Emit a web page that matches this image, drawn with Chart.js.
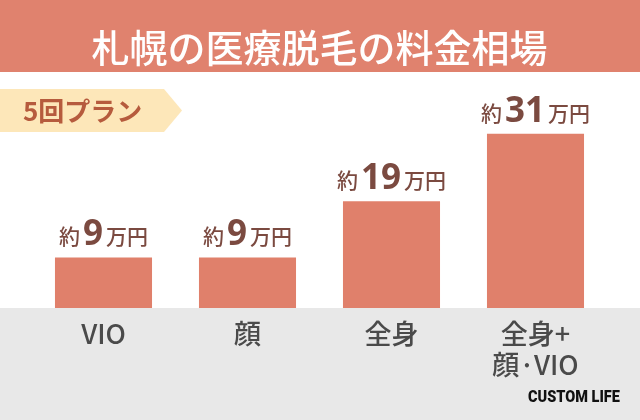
<!DOCTYPE html>
<html><head><meta charset="utf-8">
<script src="https://cdn.jsdelivr.net/npm/chart.js@4"></script>
<style>
html,body{margin:0;padding:0;background:#fff;}
#wrap{position:relative;width:640px;height:420px;}
#logo{position:absolute;left:528px;top:387px;font-family:"Liberation Sans Narrow","Roboto","DejaVu Sans Condensed",sans-serif;font-weight:900;font-size:16.5px;color:#111;transform:scaleX(0.88);transform-origin:left;white-space:nowrap;}
</style></head>
<body><div id="wrap"><canvas id="c" width="640" height="420"></canvas>
<div id="logo">CUSTOM LIFE</div></div>
<script>
const titleText = "札幌の医療脱毛の料金相場";
const badgeText = "5回プラン";
const categories = ["VIO", "顔", "全身", ["全身+", "顔·VIO"]];
const values = [9, 9, 19, 31];
const labelPrefix = "約";
const labelSuffix = "万円";

const JP = '"Noto Sans CJK JP", "Noto Sans", sans-serif';

const bgPlugin = {
  id: 'bg',
  beforeDraw(chart) {
    const ctx = chart.ctx;
    ctx.save();
    ctx.fillStyle = '#ffffff';
    ctx.fillRect(0, 0, 640, 420);
    ctx.fillStyle = '#E0826E';
    ctx.fillRect(0, 0, 640, 72);
    ctx.fillStyle = '#E8E8E8';
    ctx.fillRect(0, chart.chartArea.bottom, 640, 420 - chart.chartArea.bottom);
    // badge
    ctx.fillStyle = '#FDE7B9';
    ctx.beginPath();
    ctx.moveTo(0, 89); ctx.lineTo(164, 89); ctx.lineTo(182, 110.5);
    ctx.lineTo(164, 132); ctx.lineTo(0, 132); ctx.closePath(); ctx.fill();
    ctx.fillStyle = '#B65B3D';
    ctx.font = 'bold 26px ' + JP;
    ctx.textBaseline = 'middle';
    ctx.textAlign = 'left';
    ctx.fillText(badgeText, 23, 111);
    ctx.restore();
  }
};

const labelPlugin = {
  id: 'vlabels',
  afterDatasetsDraw(chart) {
    const ctx = chart.ctx;
    const meta = chart.getDatasetMeta(0);
    ctx.save();
    ctx.fillStyle = '#7B4A40';
    ctx.textBaseline = 'alphabetic';
    ctx.textAlign = 'left';
    meta.data.forEach((bar, i) => {
      const fSmall = '500 21px ' + JP;
      const fBig = 'bold 35px "Noto Sans", "DejaVu Sans", sans-serif';
      const num = String(values[i]);
      ctx.font = fSmall; const w1 = ctx.measureText(labelPrefix).width; const w3 = ctx.measureText(labelSuffix).width;
      ctx.font = fBig; const w2 = ctx.measureText(num).width;
      const gap = 3;
      const total = w1 + w2 + w3 + gap * 2;
      let x = bar.x - total / 2;
      const y = bar.y - 12;
      ctx.font = fSmall; ctx.fillText(labelPrefix, x, y - 1); x += w1 + gap;
      ctx.font = fBig; ctx.fillText(num, x, y); x += w2 + gap;
      ctx.font = fSmall; ctx.fillText(labelSuffix, x, y - 1);
    });
    ctx.restore();
  }
};

new Chart(document.getElementById('c'), {
  type: 'bar',
  data: {
    labels: categories,
    datasets: [{
      data: values,
      backgroundColor: '#E0806B',
      borderWidth: 0,
      barPercentage: 0.674,
      categoryPercentage: 1.0
    }]
  },
  options: {
    responsive: false,
    animation: false,
    devicePixelRatio: 1,
    layout: { padding: { left: 31.5, right: 32.5, top: 11, bottom: 0 } },
    plugins: {
      legend: { display: false },
      tooltip: { enabled: false },
      title: {
        display: true,
        text: titleText,
        color: '#ffffff',
        font: { family: JP, size: 38, weight: '500', lineHeight: 1.2 },
        padding: { top: 13.5, bottom: 13 }
      }
    },
    scales: {
      y: { display: false, min: 0, max: 40 },
      x: {
        grid: { display: false, drawTicks: false },
        border: { display: false },
        ticks: {
          color: '#4A4A4A',
          font: { family: JP, size: 27, weight: '500', lineHeight: 1.15 },
          padding: 10,
          maxRotation: 0
        },
        afterFit(scale) { scale.height = 112; }
      }
    }
  },
  plugins: [bgPlugin, labelPlugin]
});
</script></body></html>
